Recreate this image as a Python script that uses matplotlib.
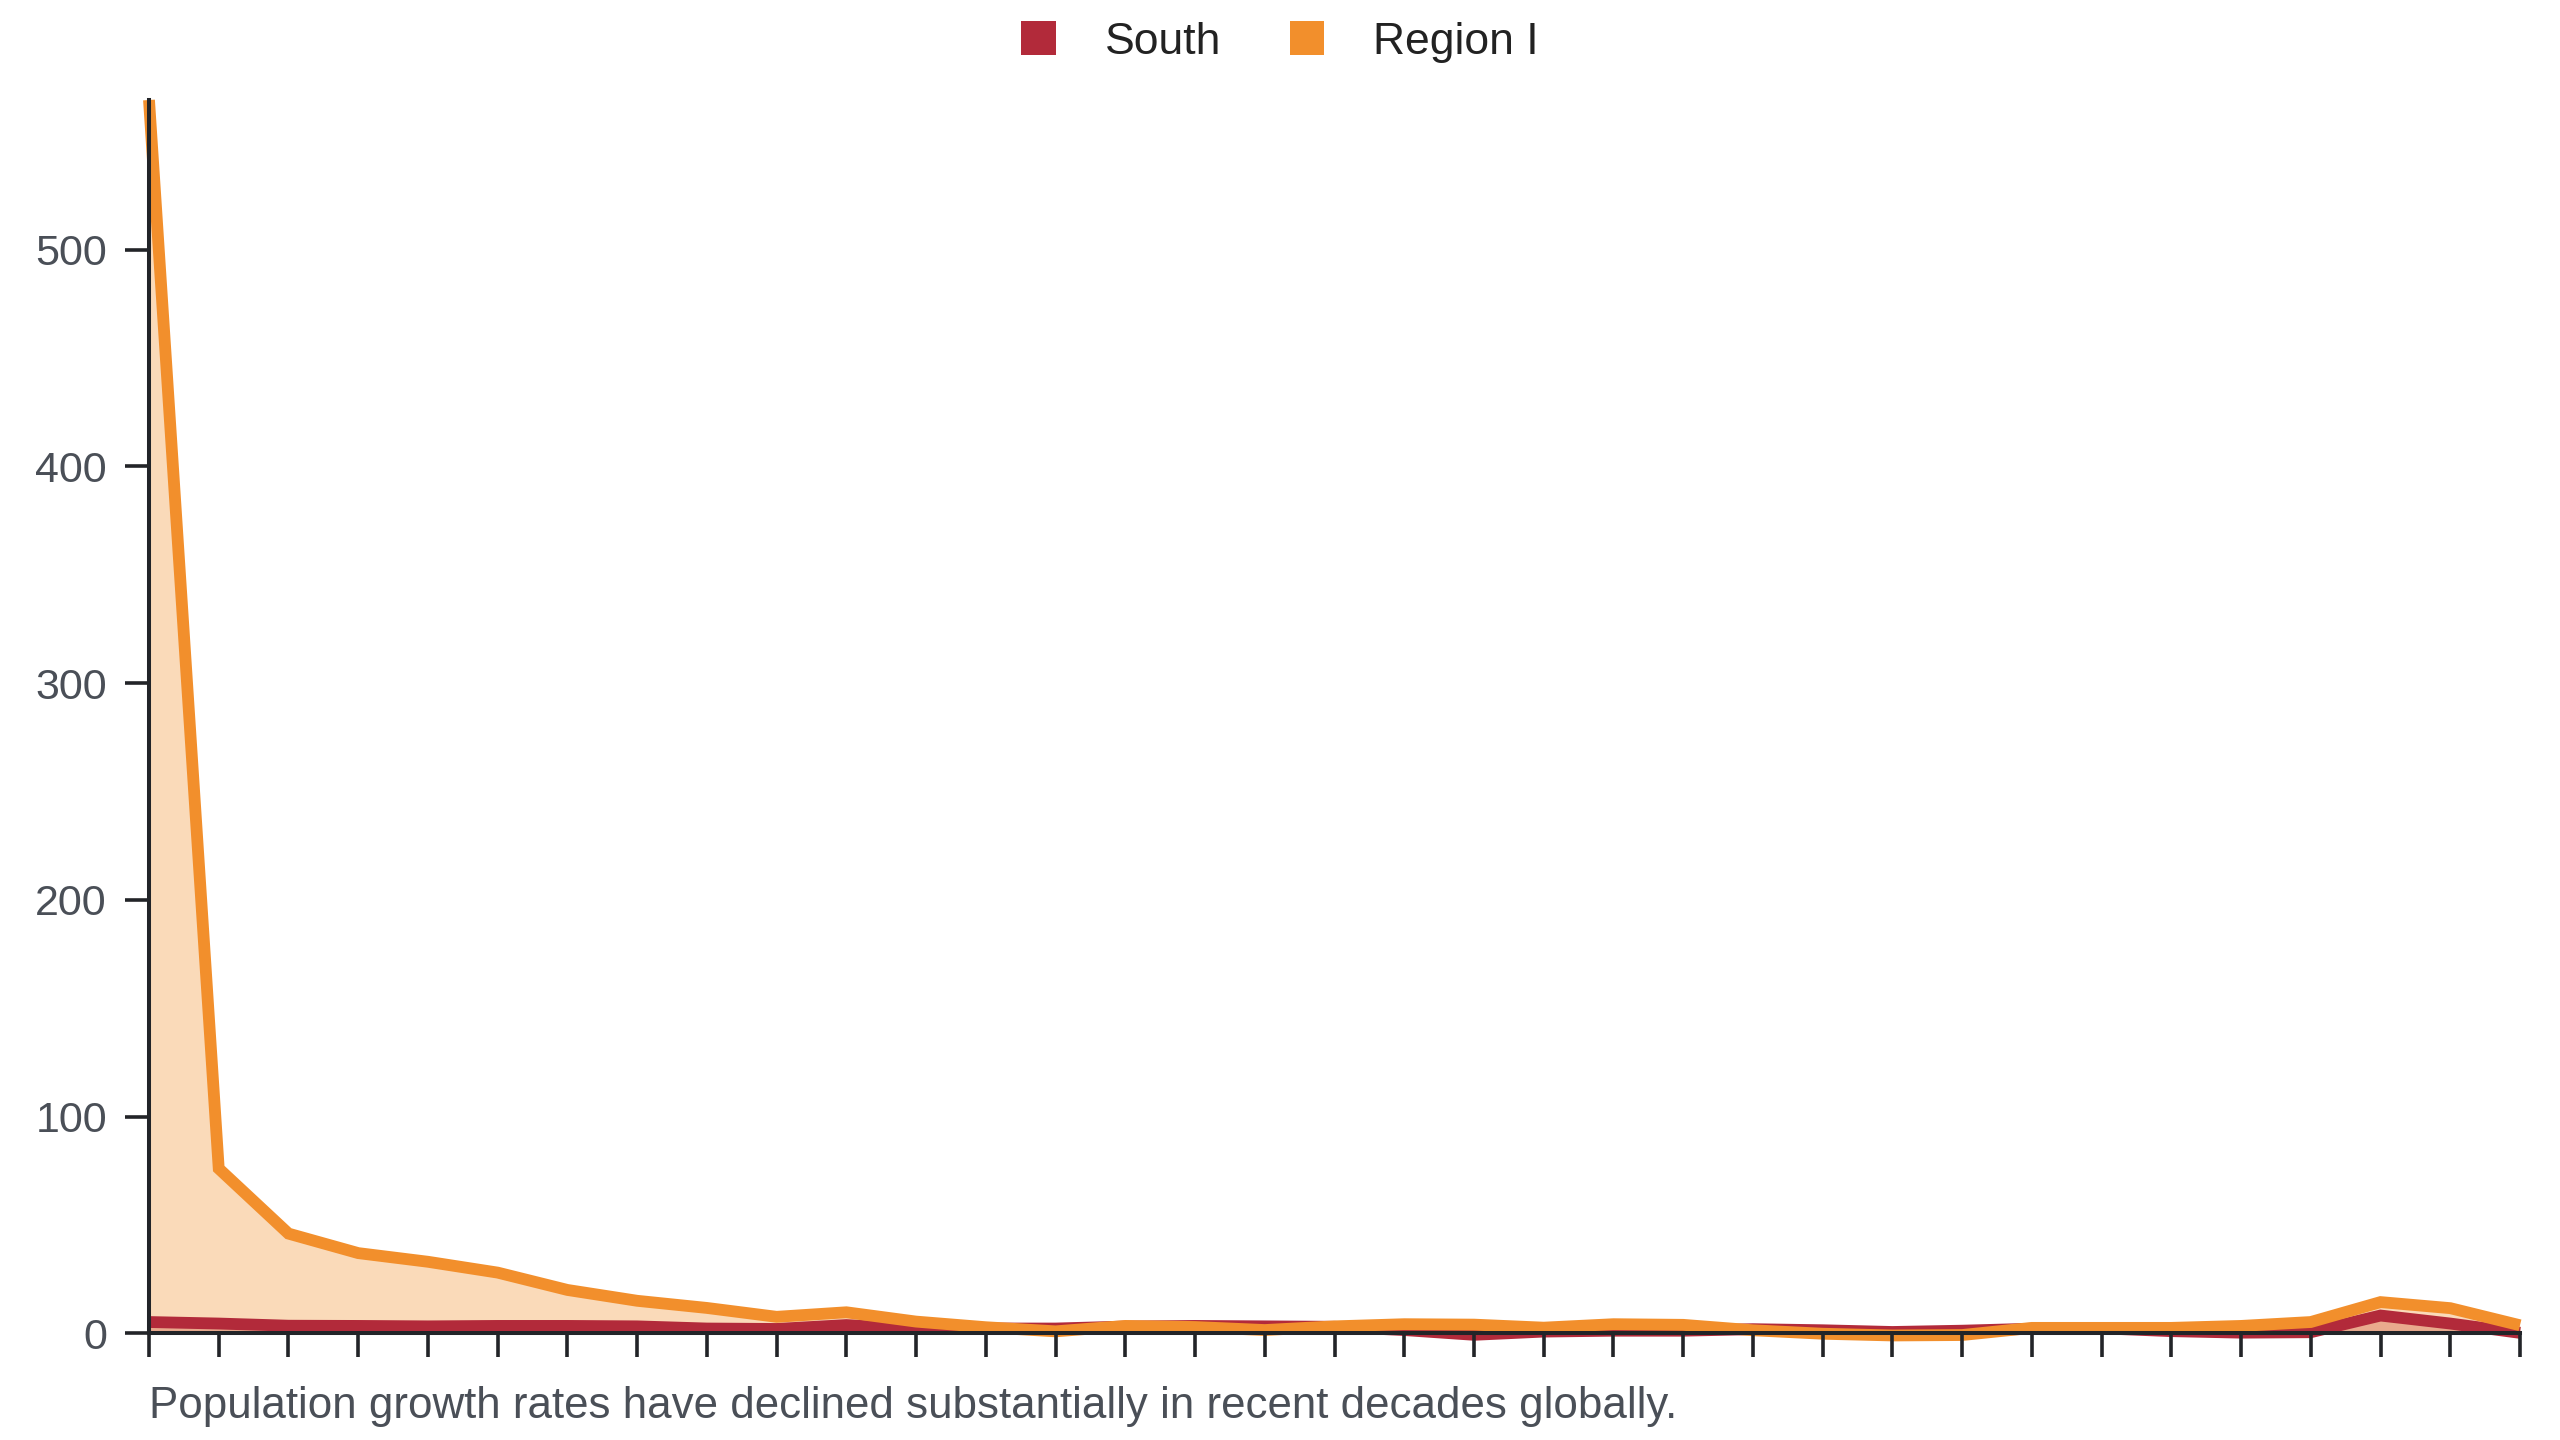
import matplotlib
matplotlib.use("Agg")
import matplotlib.pyplot as plt
import numpy as np
from matplotlib.patches import Patch

plt.rcParams["font.family"] = ["Liberation Sans", "DejaVu Sans"]

# values (35 periods, no x labels)
series_names = ["South", "Region I"]
south = [5.2, 4.5, 3.5, 3.4, 3.2, 3.4, 3.4, 3.2, 2.2, 2.0,
         3.8, 2.0, 2.2, 2.2, 3.1, 3.4, 3.2, 3.0, 1.5, -0.7,
         0.8, 1.2, 1.2, 1.9, 1.4, 0.6, 1.2, 2.1, 2.3, 1.0,
         0.3, 0.5, 8.2, 4.5, 0.2]
region_i = [569, 76, 46, 37, 33, 28, 20, 15, 11.7, 7.6,
            9.7, 5.4, 2.8, 0.9, 3.4, 2.9, 1.5, 3.2, 4.2, 4.0,
            2.6, 4.2, 3.9, 1.4, -0.2, -1.0, -0.8, 2.5, 2.5, 2.5,
            3.4, 5.2, 14.4, 11.6, 3.7]
y_ticks = [0, 100, 200, 300, 400, 500]
caption = "Population growth rates have declined substantially in recent decades globally."

colors = {"South": "#B22A3A", "Region I": "#F28F2C"}
axis_color = "#222428"
label_color = "#4a4f57"

W, H = 2560, 1440
fig = plt.figure(figsize=(W / 100, H / 100), dpi=100)
left, right, top, bottom = 149, 2520, 100, 1333.3
ax = fig.add_axes([left / W, 1 - bottom / H, (right - left) / W, (bottom - top) / H])

x = np.arange(len(south))
for name, values in zip(series_names, [south, region_i]):
    c = colors[name]
    ax.fill_between(x, 0, values, color=c, alpha=0.33, linewidth=0,
                    clip_on=False, zorder=1)
    ax.plot(x, values, color=c, linewidth=8.5, solid_joinstyle="miter",
            solid_capstyle="butt", clip_on=False, zorder=2)

ax.set_xlim(0, len(south) - 1)
ax.set_ylim(0, max(region_i))
ax.set_xticks(x)
ax.set_xticklabels([])
ax.set_yticks(y_ticks)

for side in ["top", "right"]:
    ax.spines[side].set_visible(False)
for side in ["left", "bottom"]:
    ax.spines[side].set_linewidth(2.9)
    ax.spines[side].set_color(axis_color)
    ax.spines[side].set_zorder(5)
ax.set_axisbelow(False)
ax.tick_params(axis="both", length=17.3, width=2.6, color=axis_color,
               labelsize=31, labelcolor=label_color, pad=13)

handles = [Patch(facecolor=colors[n], edgecolor="none", label=n) for n in series_names]
fig.legend(handles=handles, loc="center", bbox_to_anchor=(0.5, 1 - 42 / H),
           ncol=2, frameon=False, fontsize=32, handlelength=0.78,
           handleheight=0.78, handletextpad=1.1, columnspacing=1.55,
           borderpad=0, labelcolor="#222222")

fig.text(left / W, 1 - 1418 / H, caption, fontsize=31.6, color=label_color,
         ha="left", va="baseline")

fig.savefig("out.png", dpi=100)
plt.close(fig)
